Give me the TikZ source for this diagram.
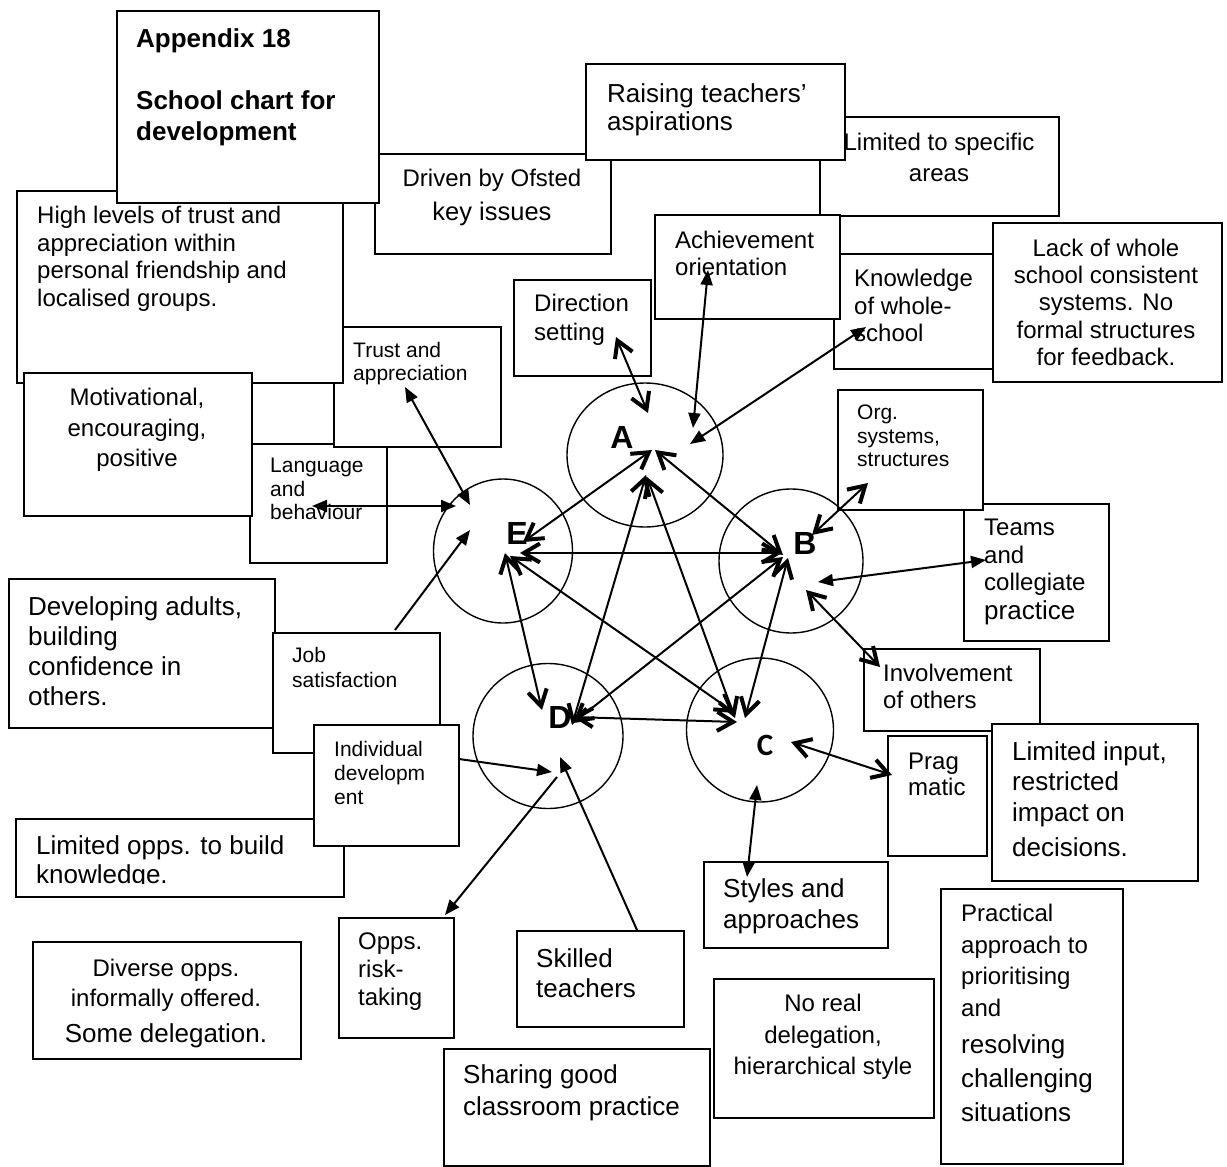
\documentclass[tikz,border=0pt]{standalone}
\usepackage{fontspec}
\setmainfont{Liberation Sans}
\newfontfamily\letterfont{Carlito}
\usetikzlibrary{arrows.meta,shapes.geometric}
\newcommand\fsz[2]{\fontsize{#1pt}{#2pt}\selectfont}
\tikzset{
  openv/.tip={Straight Barb[length=16pt,width=19pt,line width=4pt 0 1]},
  solidt/.tip={Triangle[length=15pt,width=12pt]},
}
\begin{document}
\begin{tikzpicture}[x=1pt,y=-1pt,
  box/.style={draw=black, line width=1.5pt, fill=white, inner sep=0pt, anchor=north west},
  txt/.style={inner sep=0pt, anchor=north west, align=left},
  ctxt/.style={inner sep=0pt, anchor=north, align=center},
  ring/.style={draw=black, line width=1.4pt, ellipse, inner sep=0pt},
  letter/.style={inner sep=0pt, font=\fsz{32}{32}\bfseries},
  link/.style={line width=2pt},
]
\useasboundingbox (0,0) rectangle (1227,1167);
\fill[white] (0,0) rectangle (1227,1167);

% ---- boxes, lowest first, each followed by its text ----
\node[box, minimum width=137pt, minimum height=119pt] (lang) at (249,443) {};
\node[txt, font=\fsz{21}{23.5}] (langtx) at (270,458) {Language\\and\\behaviour};

\node[box, minimum width=167pt, minimum height=120pt] (trust) at (333,326) {};
\node[txt, font=\fsz{21}{23}] (trusttx) at (353,342) {Trust and\\appreciation};

\node[box, minimum width=326pt, minimum height=192pt] (high) at (16,190) {};
\node[txt, font=\fsz{24}{27.7}] (hightx) at (37,206) {High levels of trust and\\appreciation within\\personal friendship and\\localised groups.};

\node[box, minimum width=228pt, minimum height=143pt] (motiv) at (23,372) {};
\node[ctxt, font=\fsz{24}{30.5}] (motivtx) at (137,388) {Motivational,\\encouraging,\\positive};

\node[box, minimum width=236pt, minimum height=100pt] (drv) at (374,153) {};
\node[ctxt, font=\fsz{24}{34}] (drvtx) at (492,169) {Driven by Ofsted\\{\fsz{25.5}{34}key issues}};

\node[box, minimum width=262pt, minimum height=192pt] (apx) at (116,10) {};
\node[txt, font=\fsz{26}{31}\bfseries] (apxtx) at (136,28) {Appendix 18\\[31pt]School chart for\\development};

\node[box, minimum width=239pt, minimum height=99pt] (lspec) at (819,116) {};
\node[ctxt, font=\fsz{24}{31}] (lspectx) at (939,133) {Limited to specific\\areas};

\node[box, minimum width=259pt, minimum height=96pt] (rais) at (585,63) {};
\node[txt, font=\fsz{26}{28}] (raistx) at (607,83) {Raising teachers’\\aspirations};

\node[box, minimum width=159pt, minimum height=115pt] (know) at (833,253) {};
\node[txt, font=\fsz{24}{27.5}] (knowtx) at (854,269) {Knowledge\\of whole-\\school};

\node[box, minimum width=185pt, minimum height=104pt] (ach) at (654,214) {};
\node[txt, font=\fsz{24}{27}] (achtx) at (675,231) {Achievement\\orientation};

\node[box, minimum width=229pt, minimum height=159pt] (lack) at (992,222) {};
\node[ctxt, font=\fsz{24}{27.2}] (lacktx) at (1106,239) {Lack of whole\\school consistent\\systems. No\\formal structures\\for feedback.};

\node[box, minimum width=137pt, minimum height=96pt] (dir) at (513,279) {};
\node[txt, font=\fsz{24}{29}] (dirtx) at (534,294) {Direction\\setting};

\node[box, minimum width=266pt, minimum height=149pt] (devel) at (8,578) {};
\node[txt, font=\fsz{26}{30}] (develtx) at (28,596) {Developing adults,\\building\\confidence in\\others.};

\node[box, minimum width=167pt, minimum height=120pt] (job) at (272,632) {};
\node[txt, font=\fsz{21}{25}] (jobtx) at (292,647) {Job\\satisfaction};

\node[box, minimum width=328pt, minimum height=78pt] (lopps) at (15,818) {};
\begin{scope}
  \clip (15,818) rectangle (343,883);
  \node[txt, font=\fsz{26}{29}] (loppstx) at (36,835) {Limited opps. to build\\knowledge.};
\end{scope}

\node[box, minimum width=145pt, minimum height=121pt] (indiv) at (313,724) {};
\node[txt, font=\fsz{21}{24}] (indivtx) at (334,741) {Individual\\developm\\ent};

\node[box, minimum width=268pt, minimum height=117pt] (divs) at (32,941) {};
\node[ctxt, font=\fsz{24}{30}] (divstx) at (166,959) {Diverse opps.\\informally offered.\\[6pt]{\fsz{26}{30}Some delegation.}};

\node[box, minimum width=115pt, minimum height=120pt] (opps) at (338,917) {};
\node[txt, font=\fsz{24}{28}] (oppstx) at (358,933) {Opps.\\risk-\\taking};

\node[box, minimum width=167pt, minimum height=96pt] (skill) at (516,930) {};
\node[txt, font=\fsz{26}{30}] (skilltx) at (536,948) {Skilled\\teachers};

\node[box, minimum width=266pt, minimum height=117pt] (share) at (443,1048) {};
\node[txt, font=\fsz{26}{32}] (sharetx) at (463,1064) {Sharing good\\classroom practice};

\node[box, minimum width=184pt, minimum height=86pt] (styl) at (703,861) {};
\node[txt, font=\fsz{26}{31}] (styltx) at (723,878) {Styles and\\approaches};

\node[box, minimum width=220pt, minimum height=139pt] (norl) at (713,978) {};
\node[ctxt, font=\fsz{24}{31.5}] (norltx) at (823,994) {No real\\delegation,\\hierarchical style};

\node[box, minimum width=182pt, minimum height=275pt] (prac) at (940,888) {};
\node[txt, font=\fsz{24}{31.6}] (practx) at (961,904) {Practical\\approach to\\prioritising\\and};
\node[txt, font=\fsz{26}{34}] (practxb) at (961,1034) {resolving\\challenging\\situations};

\node[box, minimum width=145pt, minimum height=137pt] (teams) at (963,503) {};
\node[txt, font=\fsz{24}{27.5}] (teamstx) at (984,519) {Teams\\and\\collegiate\\[1.5pt]{\fsz{26}{28}practice}};

\node[box, minimum width=145pt, minimum height=120pt] (org) at (837,389) {};
\node[txt, font=\fsz{21}{23.5}] (orgtx) at (857,405) {Org.\\systems,\\structures};

\node[box, minimum width=176pt, minimum height=82pt] (invl) at (863,648) {};
\node[txt, font=\fsz{24}{27}] (invltx) at (883,664) {Involvement\\of others};

\node[box, minimum width=206pt, minimum height=157pt] (linp) at (991,723) {};
\node[txt, font=\fsz{26}{30.5}] (linptx) at (1012,741) {Limited input,\\restricted\\impact on\\[5pt]decisions.};

\node[box, minimum width=99pt, minimum height=120pt] (prag) at (887,735) {};
\node[txt, font=\fsz{24}{26}] (pragtx) at (908,753) {Prag\\matic};

% ---- the five rings and their letters ----
\node[ring, minimum width=156pt, minimum height=144pt] (cA) at (645,455) {};
\node[ring, minimum width=144pt, minimum height=144pt] (cB) at (791,561) {};
\node[ring, minimum width=147pt, minimum height=144pt] (cC) at (760,730) {};
\node[ring, minimum width=150pt, minimum height=145pt] (cD) at (548,736) {};
\node[ring, minimum width=139pt, minimum height=144pt] (cE) at (503,551) {};

\node[letter] (lA) at (622,437) {A};
\node[letter] (lB) at (805,543) {B};
\node[inner sep=0pt, font=\letterfont\fsz{31}{31}\bfseries] (lC) at (765,745) {C};
\node[letter] (lD) at (560,717) {D};
\node[letter] (lE) at (517,533) {E};

% ---- connector ends ----
\coordinate (E-a) at (523,542);  \coordinate (A-e) at (652,450);
\coordinate (A-b) at (655,450);  \coordinate (B-a) at (783,555);
\coordinate (A-d) at (646,475);  \coordinate (D-a) at (572,725);
\coordinate (A-c) at (647,477);  \coordinate (C-a) at (735,718);
\coordinate (E-b) at (520,553);  \coordinate (B-e) at (782,553);
\coordinate (E-d) at (505,553);  \coordinate (D-e) at (542,710);
\coordinate (E-c) at (510,556);  \coordinate (C-e) at (735,713);
\coordinate (B-d) at (783,557);  \coordinate (D-b) at (573,723);
\coordinate (B-c) at (788,558);  \coordinate (C-b) at (745,718);
\coordinate (D-c) at (573,717);  \coordinate (C-d) at (737,722);

\coordinate (dir-t) at (616,337);   \coordinate (A-dir) at (648,413);
\coordinate (ach-t) at (708,270);   \coordinate (A-ach) at (693,428);
\coordinate (know-t) at (866,327);  \coordinate (A-know) at (690,444);
\coordinate (org-t) at (868,483);   \coordinate (B-org) at (812,535);
\coordinate (teams-t) at (986,560); \coordinate (B-teams) at (818,582);
\coordinate (invl-t) at (880,667);  \coordinate (B-invl) at (806,590);
\coordinate (prag-t) at (892,775);  \coordinate (C-prag) at (791,742);
\coordinate (styl-t) at (747,877);  \coordinate (C-styl) at (757,785);
\coordinate (skill-t) at (637,930); \coordinate (D-skill) at (560,757);
\coordinate (indiv-t) at (459,759); \coordinate (D-indiv) at (552,772);
\coordinate (D-opps) at (557,777);  \coordinate (opps-t) at (445,915);
\coordinate (job-t) at (395,630);   \coordinate (E-job) at (470,530);
\coordinate (lang-t) at (312,506);  \coordinate (E-lang) at (456,506);
\coordinate (trust-t) at (405,387); \coordinate (E-trust) at (470,505);

% ---- links between the rings ----
\draw[link, openv-openv] (E-a) -- (A-e);
\draw[link, openv-openv] (A-b) -- (B-a);
\draw[link, openv-openv] (A-d) -- (D-a);
\draw[link, openv-openv] (A-c) -- (C-a);
\draw[link, openv-openv] (E-b) -- (B-e);
\draw[link, openv-openv] (E-d) -- (D-e);
\draw[link, openv-openv] (E-c) -- (C-e);
\draw[link, openv-openv] (B-d) -- (D-b);
\draw[link, openv-openv] (B-c) -- (C-b);
\draw[link, openv-openv] (D-c) -- (C-d);

% ---- links out to the boxes ----
\draw[link, openv-openv] (dir-t) -- (A-dir);
\draw[link, solidt-solidt] (ach-t) -- (A-ach);
\draw[link, solidt-solidt] (know-t) -- (A-know);
\draw[link, openv-openv] (org-t) -- (B-org);
\draw[link, solidt-solidt] (teams-t) -- (B-teams);
\draw[link, openv-openv] (invl-t) -- (B-invl);
\draw[link, openv-openv] (prag-t) -- (C-prag);
\draw[link, solidt-solidt] (styl-t) -- (C-styl);
\draw[link, -solidt] (skill-t) -- (D-skill);
\draw[link, -solidt] (indiv-t) -- (D-indiv);
\draw[link, -solidt] (D-opps) -- (opps-t);
\draw[link, -solidt] (job-t) -- (E-job);
\draw[link, solidt-solidt] (lang-t) -- (E-lang);
\draw[link, solidt-solidt] (trust-t) -- (E-trust);
\end{tikzpicture}
\end{document}
